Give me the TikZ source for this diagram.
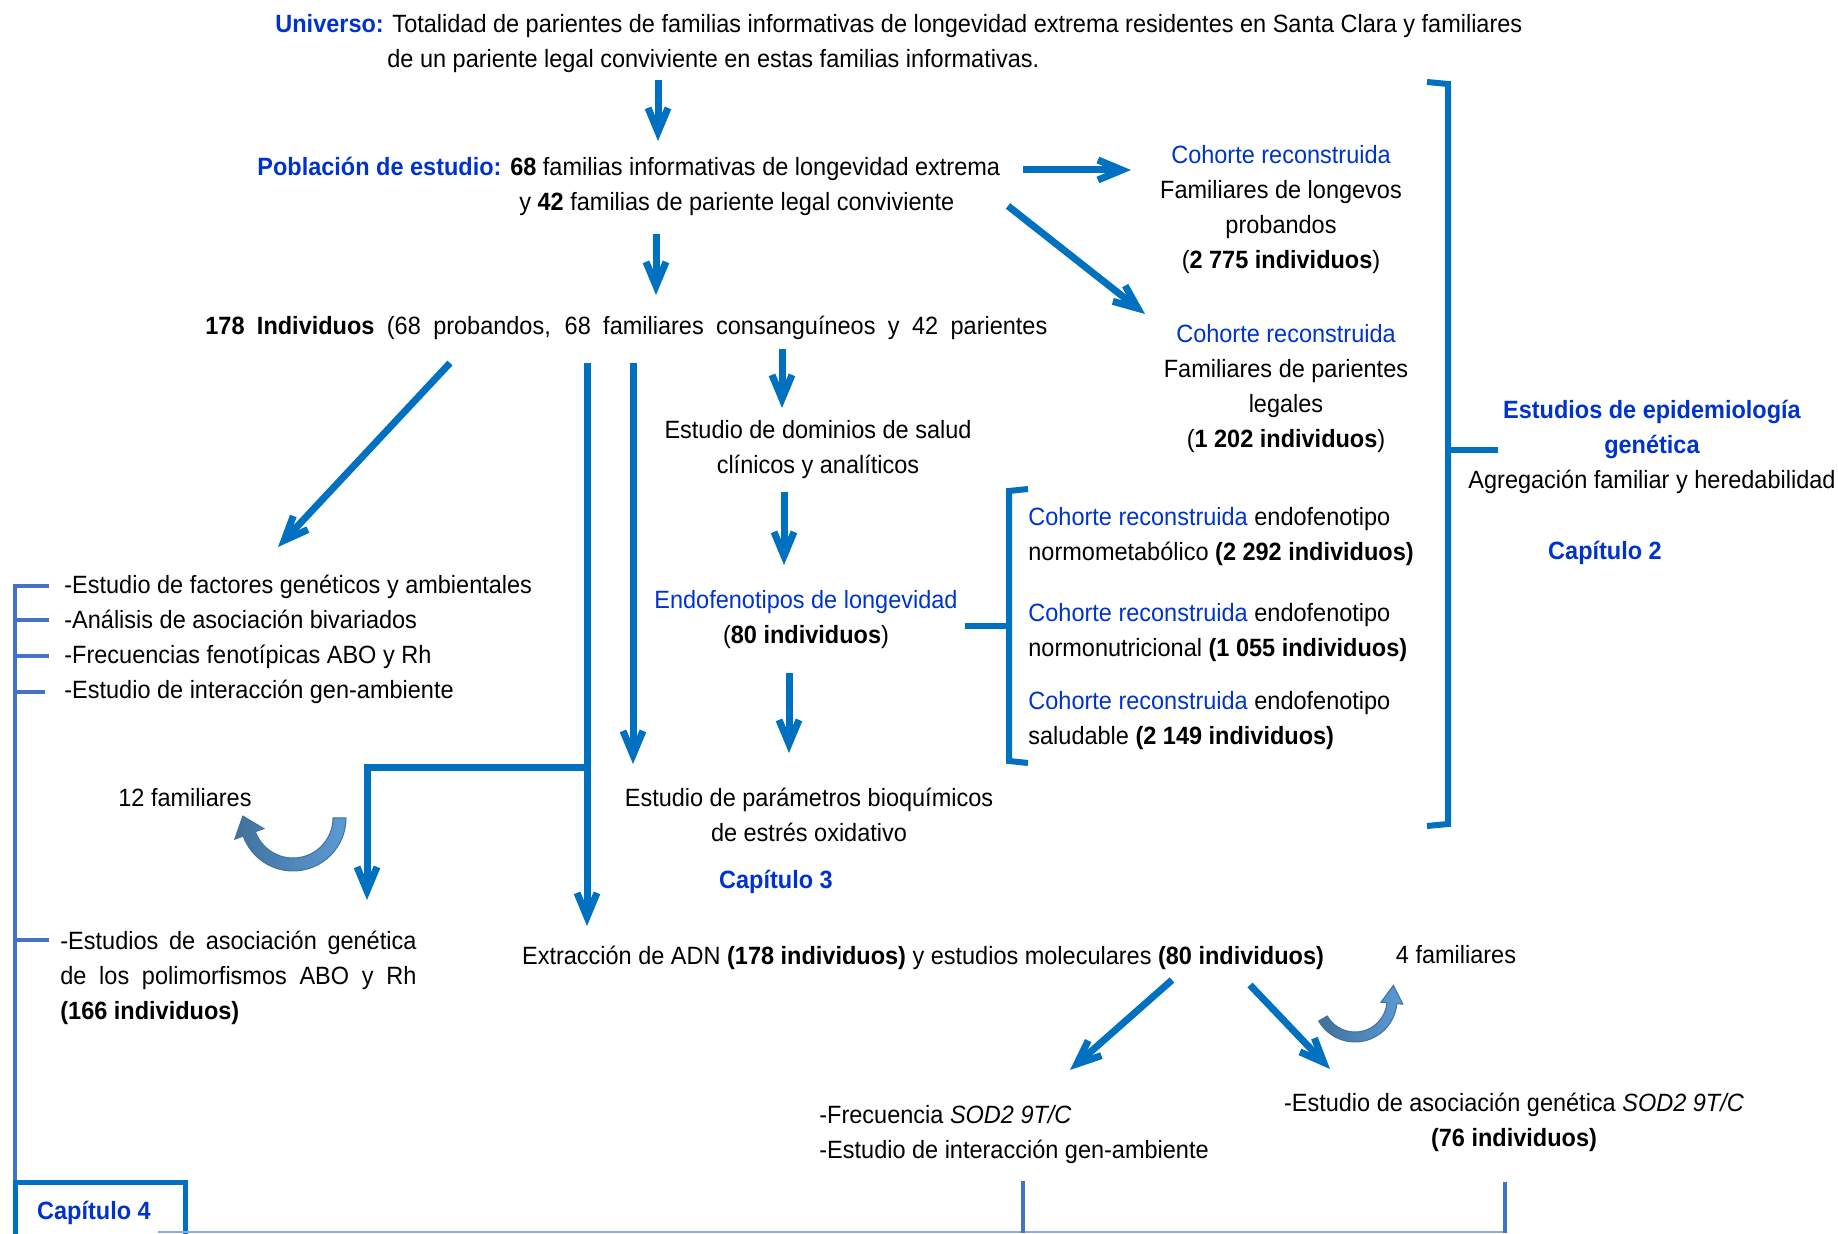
\documentclass[tikz,border=0pt]{standalone}
\usepackage{fontspec}
\setmainfont[FakeStretch=0.94]{Liberation Sans}
\usetikzlibrary{arrows.meta,calc}

\definecolor{arrblue}{RGB}{0,112,192}
\definecolor{txtblue}{RGB}{0,51,204}
\definecolor{railblue}{RGB}{68,114,196}
\definecolor{lineblue}{RGB}{143,170,220}
\definecolor{curvedark}{RGB}{65,113,156}
\definecolor{curvelight}{RGB}{91,155,213}

\newcommand{\bl}[1]{\textcolor{txtblue}{#1}}

\begin{document}
\begin{tikzpicture}[x=0.5pt,y=-0.5pt,
	every node/.style={inner sep=0pt,font=\fontsize{12.5}{17.5}\selectfont},
	arr/.style={arrblue,line width=3.5pt,-{Straight Barb[length=12pt,width=10pt]}},
	brack/.style={arrblue,line width=3pt},
	rail/.style={railblue,line width=2.2pt},
	curvy/.style={left color=curvedark,right color=curvelight,draw=curvedark,line width=0.5pt}]
\useasboundingbox (0,0) rectangle (1838,1234);
%
% texts
\begin{scope}[yshift=-1.25pt]
	\node[anchor=west,align=left] (univ) at (275,41) {\bl{\textbf{Universo:}} Totalidad de parientes de familias informativas de longevidad extrema residentes en Santa Clara y familiares\\ \hspace*{56pt}de un pariente legal conviviente en estas familias informativas.};
	\node[anchor=west,align=left] (pob) at (257,183.5) {\bl{\textbf{Población de estudio:}} \textbf{68} familias informativas de longevidad extrema\\ \hspace*{131pt}y \textbf{42} familias de pariente legal conviviente};
	\node[anchor=west] (ind) at (205,325) {\makebox[421pt][s]{\textbf{178 Individuos} (68 probandos, 68 familiares consanguíneos y 42 parientes}};
	\node[align=center] (dom) at (818,447.5) {Estudio de dominios de salud\\clínicos y analíticos};
	\node[align=center] (endo) at (806,617.5) {\bl{Endofenotipos de longevidad}\\(\textbf{80 individuos})};
	\node[align=center] (bioq) at (809,812.5) {Estudio de parámetros bioquímicos\\de estrés oxidativo};
	\node (cap3) at (776,879) {\bl{\textbf{Capítulo 3}}};
	\node[align=center] (coh1) at (1281,207) {\bl{Cohorte reconstruida}\\Familiares de longevos\\probandos\\(\textbf{2 775 individuos})};
	\node[align=center] (coh2) at (1286,386) {\bl{Cohorte reconstruida}\\Familiares de parientes\\legales\\(\textbf{1 202 individuos})};
	\node[align=center] (epi) at (1652,444) {\bl{\textbf{Estudios de epidemiología}}\\\bl{\textbf{genética}}\\Agregación familiar y heredabilidad};
	\node (cap2) at (1605,550) {\bl{\textbf{Capítulo 2}}};
	\node[anchor=west,align=left] (endA) at (1028,534.5) {\bl{Cohorte reconstruida} endofenotipo\\normometabólico \textbf{(2 292 individuos)}};
	\node[anchor=west,align=left] (endB) at (1028,630.5) {\bl{Cohorte reconstruida} endofenotipo\\normonutricional \textbf{(1 055 individuos)}};
	\node[anchor=west,align=left] (endC) at (1028,718.5) {\bl{Cohorte reconstruida} endofenotipo\\saludable \textbf{(2 149 individuos)}};
	\node[anchor=west,align=left] (lista) at (64,637) {-Estudio de factores genéticos y ambientales\\-Análisis de asociación bivariados\\-Frecuencias fenotípicas ABO y Rh\\-Estudio de interacción gen-ambiente};
	\node (fam12) at (185,795) {12 familiares};
	\node[anchor=west,align=left] (asoc) at (60,975) {\makebox[178pt][s]{-Estudios de asociación genética}\\\makebox[178pt][s]{de los polimorfismos ABO y Rh}\\\textbf{(166 individuos)}};
	\node (adn) at (923,955) {Extracción de ADN \textbf{(178 individuos)} y estudios moleculares \textbf{(80 individuos)}};
	\node (fam4) at (1456,952) {4 familiares};
	\node[anchor=west,align=left] (sodA) at (819,1132.5) {-Frecuencia \textit{SOD2 9T/C}\\-Estudio de interacción gen-ambiente};
	\node[align=center] (sodB) at (1514,1120) {-Estudio de asociación genética \textit{SOD2 9T/C}\\\textbf{(76 individuos)}};
	\node (cap4) at (94,1210) {\bl{\textbf{Capítulo 4}}};
\end{scope}
%
% arrow ends
	\coordinate (u1) at (658,80);   \coordinate (p1) at (658,141);
	\coordinate (p2) at (1023,170); \coordinate (c1) at (1131,170);
	\coordinate (p3) at (1008,206); \coordinate (c2) at (1145,314);
	\coordinate (p4) at (656,234);  \coordinate (i1) at (656,295);
	\coordinate (i2) at (450,363);  \coordinate (l1) at (278,547);
	\coordinate (i3) at (587,363);  \coordinate (x1) at (587,926);
	\coordinate (k1) at (587,768);  \coordinate (k2) at (367,768); \coordinate (a1) at (367,900);
	\coordinate (i4) at (633,363);  \coordinate (b1) at (633,764);
	\coordinate (i5) at (782,349);  \coordinate (d1) at (782,408);
	\coordinate (d2) at (784,492);  \coordinate (e1) at (784,565);
	\coordinate (e2) at (789,673);  \coordinate (b2) at (789,753);
	\coordinate (x2) at (1172,980); \coordinate (s1) at (1070,1070);
	\coordinate (x3) at (1250,985); \coordinate (s2) at (1330,1069);
%
% arrows
	\draw[arr] (u1) -- (p1);
	\draw[arr] (p2) -- (c1);
	\draw[arr] (p3) -- (c2);
	\draw[arr] (p4) -- (i1);
	\draw[arr] (i2) -- (l1);
	\draw[arr] (i3) -- (x1);
	\draw[arr] (k1) -- (k2) -- (a1);
	\draw[arr] (i4) -- (b1);
	\draw[arr] (i5) -- (d1);
	\draw[arr] (d2) -- (e1);
	\draw[arr] (e2) -- (b2);
	\draw[arr] (x2) -- (s1);
	\draw[arr] (x3) -- (s2);
%
% brackets
	\draw[brack] (1427,82) -- (1448,84) -- (1448,824) -- (1427,826);
	\draw[brack] (1448,450) -- (1498,450);
	\draw[brack] (1028,489) -- (1009,491) -- (1009,761) -- (1028,763);
	\draw[brack] (1009,626) -- (965,626);
	\draw[rail] (15,584) -- (15,1234);
	\foreach \y in {586,620,656,940} \draw[rail] (15,\y) -- (49,\y);
	\draw[rail] (15,692) -- (45,692);
	\draw[arrblue,line width=2.5pt] (15,1234) -- (15,1182) -- (185,1182) -- (185,1234);
	\draw[lineblue,line width=1.2pt] (158,1232) -- (1505,1232);
	\draw[rail] (1023,1181) -- (1023,1233);
	\draw[rail] (1505,1182) -- (1505,1233);
%
% curved arrows
	\coordinate (m1) at (293,818);
	\path[curvy] ($(m1)+(0:53)$) arc[start angle=0,end angle=160,radius=53]
		-- ($(m1)+(160:62)$) -- ($(m1)+(160:46.5)+(250:19)$) -- ($(m1)+(160:31)$)
		-- ($(m1)+(160:40)$) arc[start angle=160,end angle=0,radius=40] -- cycle;
	\coordinate (m2) at (1355,1000);
	\path[curvy] ($(m2)+(150:42)$) arc[start angle=150,end angle=5,radius=42]
		-- ($(m2)+(5:48)$) -- ($(m2)+(5:37)+(-85:18)$) -- ($(m2)+(5:26)$)
		-- ($(m2)+(5:32)$) arc[start angle=5,end angle=150,radius=32] -- cycle;
\end{tikzpicture}
\end{document}
